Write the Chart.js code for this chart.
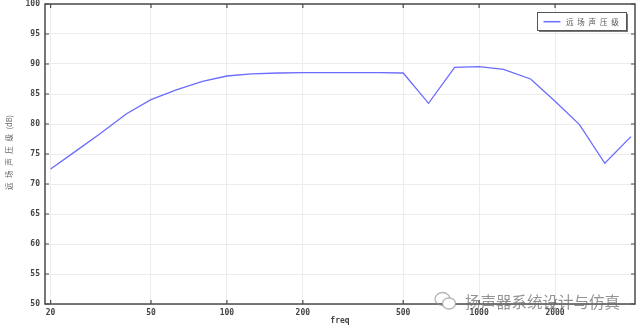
<!DOCTYPE html>
<html>
<head>
<meta charset="utf-8">
<script src="https://cdn.jsdelivr.net/npm/chart.js@4"></script>
<style>
  html,body{margin:0;padding:0;background:#fff;}
  #wrap{position:relative;width:640px;height:329px;}
  #wm{position:absolute;left:434px;top:290px;height:22px;display:flex;align-items:center;
      font-family:"Noto Sans CJK SC";font-size:15.5px;color:rgba(110,110,110,0.75);white-space:nowrap;}
  #wm svg{margin-right:8px;}
</style>
</head>
<body>
<div id="wrap">
<canvas id="c" width="640" height="329"></canvas>
<div id="wm"><svg width="23" height="20" viewBox="0 0 23 20"><ellipse cx="8.5" cy="8" rx="7.5" ry="6.5" fill="none" stroke="rgba(150,150,150,0.7)" stroke-width="1.3"/><ellipse cx="15" cy="12.5" rx="6.5" ry="5.5" fill="#fff" stroke="rgba(150,150,150,0.7)" stroke-width="1.3"/></svg><span id="wmt">扬声器系统设计与仿真</span></div>
</div>
<script>
const freqs = [20, 25, 31.5, 40, 50, 63, 80, 100, 125, 160, 200, 250, 315, 400, 500, 630, 800, 1000, 1250, 1600, 2000, 2500, 3150, 4000];
const spl   = [72.5, 75.4, 78.4, 81.7, 84.05, 85.7, 87.1, 88.0, 88.35, 88.5, 88.55, 88.55, 88.55, 88.55, 88.5, 83.45, 89.45, 89.55, 89.1, 87.5, 83.8, 79.9, 73.45, 77.9];
const xTicks = [20, 50, 100, 200, 500, 1000, 2000];
const yTicks = [50, 55, 60, 65, 70, 75, 80, 85, 90, 95, 100];
const seriesLabel = '远场声压级';
const xTitle = 'freq';
const yTitleChars = ['远', '场', '声', '压', '级', '(dB)'];

const tickFont = {family: 'DejaVu Sans Mono', size: 8, weight: 'bold'};

const framePlugin = {
  id: 'frame',
  afterDraw(chart) {
    const {ctx, chartArea: a, scales} = chart;
    ctx.save();
    ctx.strokeStyle = '#4a4a4a';
    ctx.lineWidth = 1.5;
    ctx.strokeRect(a.left, a.top, a.right - a.left, a.bottom - a.top);
    ctx.lineWidth = 1.2;
    ctx.beginPath();
    yTicks.forEach(v => {
      const y = scales.y.getPixelForValue(v);
      ctx.moveTo(a.left, y); ctx.lineTo(a.left + 4, y);
      ctx.moveTo(a.right, y); ctx.lineTo(a.right - 4, y);
    });
    xTicks.forEach(v => {
      const x = scales.x.getPixelForValue(v);
      ctx.moveTo(x, a.bottom); ctx.lineTo(x, a.bottom - 4);
      ctx.moveTo(x, a.top); ctx.lineTo(x, a.top + 4);
    });
    ctx.stroke();
    // y-axis title, characters spaced out, reading bottom to top
    ctx.save();
    ctx.translate(9, 0);
    ctx.rotate(-Math.PI / 2);
    ctx.fillStyle = '#666';
    ctx.font = '7.5px "Noto Sans CJK SC"';
    ctx.textBaseline = 'middle';
    ctx.textAlign = 'left';
    let pos = -190;
    yTitleChars.forEach(ch => {
      ctx.fillText(ch, pos, 0);
      pos += ctx.measureText(ch).width + 4.6;
    });
    ctx.restore();
    // legend
    const ds = chart.data.datasets[0];
    const bx = 537.5, by = 12.5, bw = 89, bh = 18;
    ctx.fillStyle = '#777';
    ctx.fillRect(bx + 1.5, by + 1.5, bw, bh);
    ctx.fillStyle = '#fff';
    ctx.fillRect(bx, by, bw, bh);
    ctx.strokeStyle = '#555';
    ctx.lineWidth = 1;
    ctx.strokeRect(bx, by, bw, bh);
    ctx.strokeStyle = ds.borderColor;
    ctx.lineWidth = 1.5;
    ctx.beginPath();
    ctx.moveTo(543.5, 21.7); ctx.lineTo(560.5, 21.7);
    ctx.stroke();
    ctx.fillStyle = '#555';
    ctx.font = '7.5px "Noto Sans CJK SC"';
    ctx.textBaseline = 'middle';
    ctx.textAlign = 'left';
    Array.from(ds.label).forEach((ch, i) => {
      ctx.fillText(ch, 566 + i * 11.3, 22);
    });
    ctx.restore();
  }
};

new Chart(document.getElementById('c'), {
  type: 'line',
  data: {
    datasets: [{
      label: seriesLabel,
      data: freqs.map((f, i) => ({x: f, y: spl[i]})),
      borderColor: '#6b6bff',
      borderWidth: 1.3,
      pointRadius: 0,
      tension: 0,
      fill: false
    }]
  },
  options: {
    responsive: false,
    animation: false,
    devicePixelRatio: 1,
    layout: {padding: {top: 4, right: 5, left: 0, bottom: 0}},
    plugins: {legend: {display: false}, tooltip: {enabled: false}},
    scales: {
      x: {
        type: 'logarithmic',
        min: 19,
        max: 4150,
        afterBuildTicks(s) { s.ticks = xTicks.map(v => ({value: v})); },
        afterFit(s) { s.height = 25; s.paddingLeft = 0; s.paddingRight = 0; },
        ticks: {
          autoSkip: false, maxRotation: 0, padding: 4, color: '#444', font: tickFont,
          callback: v => String(v)
        },
        grid: {color: '#ececec', lineWidth: 1, drawTicks: false},
        border: {display: false},
        title: {display: true, text: xTitle, color: '#444', font: {family: 'DejaVu Sans Mono', size: 8, weight: 'bold'}, padding: {top: 0, bottom: 3.2}}
      },
      y: {
        min: 50,
        max: 100,
        afterBuildTicks(s) { s.ticks = yTicks.map(v => ({value: v})); },
        afterFit(s) { s.width = 45; s.paddingTop = 0; s.paddingBottom = 0; },
        ticks: {padding: 5, color: '#444', font: tickFont, callback: v => String(v)},
        grid: {color: '#ececec', lineWidth: 1, drawTicks: false},
        border: {display: false}
      }
    }
  },
  plugins: [framePlugin]
});
</script>
</body>
</html>
